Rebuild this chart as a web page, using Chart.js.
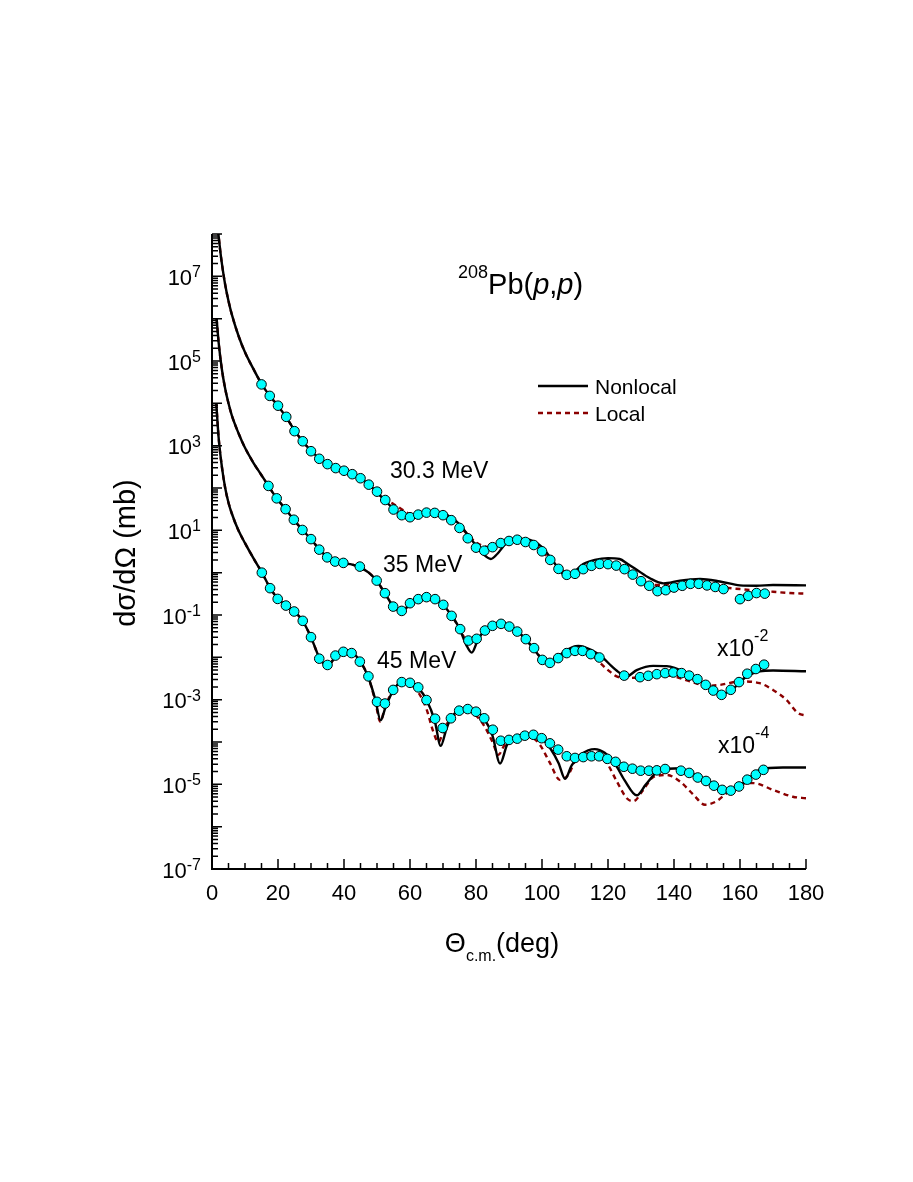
<!DOCTYPE html>
<html>
<head>
<meta charset="utf-8">
<title>208Pb(p,p) elastic scattering</title>
<script src="https://cdn.jsdelivr.net/npm/chart.js@4.4.0/dist/chart.umd.min.js"></script>
<style>
  html, body { margin: 0; padding: 0; background: #fff; }
  canvas { display: block; }
</style>
</head>
<body>
<canvas id="xsChart" width="913" height="1182" style="width:913px;height:1182px"></canvas>
<script>
    // Plotted values (mb), as shown on the figure: 35 MeV already x10^-2, 45 MeV x10^-4

    // 30.3 MeV - data
    const ang303 = [15, 17.5, 20, 22.5, 25, 27.5, 30, 32.5, 35, 37.5, 40, 42.5, 45, 47.5, 50, 52.5, 55, 57.5, 60, 62.5, 65, 67.5, 70, 72.5, 75, 77.5, 80, 82.5, 85, 87.5, 90, 92.5, 95, 97.5, 100, 102.5, 105, 107.5, 110, 112.5, 115, 117.5, 120, 122.5, 125, 127.5, 130, 132.5, 135, 137.5, 140, 142.5, 145, 147.5, 150, 152.5, 155, 160, 162.5, 165, 167.5];
    const sig303 = [2.8e4, 1.5e4, 8.8e3, 4.8e3, 2.2e3, 1.27e3, 740, 490, 366, 295, 256, 212, 170, 120, 82, 52, 31, 22.8, 20.4, 23.5, 26.2, 25.8, 22.8, 17.4, 11.4, 6.5, 3.9, 3.3, 4.0, 5.0, 5.6, 6.0, 5.3, 4.5, 3.2, 2.0, 1.23, 0.89, 0.94, 1.21, 1.45, 1.61, 1.59, 1.47, 1.21, 0.90, 0.63, 0.49, 0.366, 0.386, 0.445, 0.49, 0.545, 0.545, 0.50, 0.46, 0.41, 0.237, 0.283, 0.33, 0.32];
    // 30.3 MeV - nonlocal
    const angNl303 = [1.8, 2.5, 3, 4, 5, 6, 8, 10, 12.5, 15, 17.5, 20, 22.5, 25, 27.5, 30, 32.5, 35, 37.5, 40, 42.5, 45, 47.5, 50, 52.5, 55, 57.5, 60, 62.5, 65, 67.5, 70, 72.5, 75, 77.5, 80, 82.5, 84.5, 86.5, 89, 92, 95, 97.5, 100, 102.5, 105, 107, 109, 112.5, 116, 120, 123.5, 126, 128.7, 132.7, 136.8, 141.8, 147.9, 153.9, 160, 165, 170, 180];
    const sigNl303 = [1.26e8, 4e7, 2e7, 6.3e6, 2.6e6, 1.26e6, 4e5, 1.6e5, 6.6e4, 2.9e4, 1.5e4, 8.7e3, 4.7e3, 2.3e3, 1.26e3, 760, 500, 370, 300, 257, 214, 170, 120, 79, 50, 32, 23, 21, 23.4, 27, 27.5, 25, 20, 13.8, 7.9, 4.4, 2.6, 2.1, 2.8, 4.8, 6.3, 6.3, 5.5, 4.0, 2.3, 1.26, 0.85, 0.93, 1.6, 2.0, 2.2, 2.1, 1.6, 1.17, 0.74, 0.56, 0.65, 0.71, 0.62, 0.50, 0.49, 0.51, 0.50];
    // 30.3 MeV - local
    const angLo303 = [1.8, 2.5, 3, 4, 5, 6, 8, 10, 12.5, 15, 17.5, 20, 22.5, 25, 27.5, 30, 32.5, 35, 37.5, 40, 42.5, 45, 47.5, 50, 52.5, 55, 57.5, 60, 62.5, 65, 67.5, 70, 72.5, 75, 77.5, 80, 82.5, 85, 87.5, 90, 92.5, 95, 97.5, 100, 102.5, 105, 107.5, 110, 112.5, 115, 117.5, 120, 122.5, 125, 127.5, 130, 132.5, 135, 140, 145, 150, 155, 160, 165, 170, 175, 180];
    const sigLo303 = [1.26e8, 4e7, 2e7, 6.3e6, 2.6e6, 1.26e6, 4e5, 1.6e5, 6.6e4, 2.9e4, 1.5e4, 8.7e3, 4.7e3, 2.3e3, 1.26e3, 760, 500, 370, 300, 257, 214, 170, 120, 80, 52, 42, 31.6, 25, 25, 26.3, 26.3, 23.4, 18.6, 12.6, 7.9, 5.2, 4.2, 4.0, 4.8, 5.6, 6.0, 5.5, 4.6, 3.3, 2.0, 1.32, 1.05, 1.07, 1.26, 1.48, 1.62, 1.62, 1.48, 1.2, 0.89, 0.66, 0.54, 0.51, 0.54, 0.56, 0.54, 0.45, 0.41, 0.38, 0.355, 0.33, 0.32];

    // 35 MeV (x10^-2) - data
    const ang35 = [17.1, 19.6, 22.3, 24.8, 27.4, 30, 32.5, 34.9, 37.3, 39.8, 44.8, 49.9, 52.4, 54.9, 57.5, 60, 62.5, 65, 67.6, 70.1, 72.6, 75.2, 77.7, 80.2, 82.7, 85, 87.6, 90.1, 92.5, 95.1, 97.6, 100.1, 102.4, 104.9, 107.5, 110, 112.3, 114.8, 117.4, 124.9, 129.7, 132.2, 134.8, 137.3, 139.8, 142.3, 144.6, 147.1, 149.6, 151.9, 154.4, 157.2, 159.7, 162.2, 164.8, 167.3];
    const sig35 = [112, 57, 31.6, 17.8, 10.2, 6.2, 3.5, 2.3, 1.83, 1.70, 1.39, 0.65, 0.328, 0.158, 0.125, 0.19, 0.237, 0.264, 0.237, 0.174, 0.0955, 0.0463, 0.0249, 0.0274, 0.043, 0.0555, 0.0618, 0.0533, 0.0406, 0.0269, 0.0165, 0.0087, 0.0074, 0.0096, 0.0126, 0.0142, 0.0142, 0.0119, 0.0099, 0.0037, 0.0034, 0.00366, 0.0040, 0.00424, 0.00438, 0.00424, 0.0037, 0.00305, 0.00224, 0.00164, 0.0013, 0.00171, 0.0026, 0.0041, 0.0053, 0.0067];
    // 35 MeV - nonlocal
    const angNl35 = [1.4, 2, 3, 4, 5, 6, 8, 10, 12.5, 15, 17.1, 19.6, 22.3, 24.8, 27.4, 30, 32.5, 35, 37.5, 40, 42.5, 45, 47.5, 50, 52.5, 55, 57.5, 60, 62.5, 65, 67.5, 70, 72.5, 75, 77, 78.7, 80.5, 82.5, 85, 87.5, 90, 92.5, 95, 97.5, 100, 102, 104, 107, 111, 115, 118.6, 121, 123.6, 125.7, 128.7, 133.7, 137.8, 143.8, 148.9, 153, 154.8, 158, 162, 166, 170, 180];
    const sigNl35 = [1e6, 2.8e5, 6.3e4, 2.2e4, 1e4, 5.2e3, 2e3, 890, 400, 200, 112, 57, 31.6, 17.8, 10.2, 6.2, 3.55, 2.34, 1.86, 1.66, 1.55, 1.32, 1.0, 0.63, 0.316, 0.158, 0.126, 0.178, 0.234, 0.263, 0.24, 0.174, 0.1, 0.048, 0.02, 0.0129, 0.025, 0.0427, 0.0575, 0.0646, 0.0562, 0.0417, 0.0269, 0.0158, 0.0089, 0.0071, 0.0089, 0.0141, 0.0186, 0.0148, 0.0095, 0.0063, 0.00427, 0.00355, 0.005, 0.0063, 0.0062, 0.00427, 0.00245, 0.00155, 0.00138, 0.00186, 0.00355, 0.00468, 0.0049, 0.00468];
    // 35 MeV - local
    const angLo35 = [1.4, 2, 3, 4, 5, 6, 8, 10, 12.5, 15, 17.1, 19.6, 22.3, 24.8, 27.4, 30, 32.5, 35, 37.5, 40, 42.5, 45, 47.5, 50, 52.5, 55, 57.5, 60, 62.5, 65, 67.5, 70, 72.5, 75, 77, 78.7, 80.5, 82.5, 85, 87.5, 90, 92.5, 95, 97.5, 100, 102, 104, 107, 110, 112.5, 115, 117.6, 120, 122.6, 125.7, 130, 135, 140, 144.8, 150, 154, 160, 166, 170, 174, 177.6, 180];
    const sigLo35 = [1e6, 2.8e5, 6.3e4, 2.2e4, 1e4, 5.2e3, 2e3, 890, 400, 200, 112, 57, 31.6, 17.8, 10.2, 6.2, 3.55, 2.34, 1.86, 1.66, 1.55, 1.32, 1.0, 0.63, 0.316, 0.158, 0.126, 0.178, 0.234, 0.263, 0.24, 0.174, 0.1, 0.048, 0.025, 0.0224, 0.028, 0.0427, 0.0575, 0.063, 0.055, 0.041, 0.027, 0.016, 0.0093, 0.0078, 0.0093, 0.0129, 0.0141, 0.0138, 0.0117, 0.0074, 0.0050, 0.00355, 0.00324, 0.0034, 0.0038, 0.00355, 0.0027, 0.00214, 0.00224, 0.0027, 0.00245, 0.0017, 0.001, 0.00048, 0.00042];

    // 45 MeV (x10^-4) - data
    const ang45 = [15.1, 17.6, 19.9, 22.4, 24.9, 27.5, 30, 32.5, 35, 37.4, 39.8, 42.3, 44.8, 47.4, 50, 52.4, 54.9, 57.5, 60, 62.5, 65, 67.6, 69.9, 72.4, 74.9, 77.5, 80, 82.5, 85.1, 87.5, 90, 92.5, 94.8, 97.4, 99.9, 102.4, 104.9, 107.5, 110, 112.5, 115, 117.3, 119.8, 122.3, 124.8, 127.4, 129.9, 132.4, 134.8, 137.3, 142.1, 144.6, 147.2, 149.7, 152.1, 154.6, 157.2, 159.7, 162.2, 164.8, 167.1];
    const sig45 = [1.0, 0.43, 0.24, 0.167, 0.121, 0.0728, 0.030, 0.0093, 0.0066, 0.011, 0.0135, 0.0126, 0.0079, 0.00355, 0.00089, 0.00081, 0.0017, 0.0026, 0.0025, 0.00195, 0.00098, 0.000355, 0.000214, 0.000363, 0.00055, 0.0006, 0.00052, 0.000363, 0.000195, 0.000107, 0.000112, 0.00012, 0.000141, 0.000148, 0.000123, 9.3e-5, 6.6e-5, 4.6e-5, 4.2e-5, 4.4e-5, 4.6e-5, 4.6e-5, 4.0e-5, 3.4e-5, 2.6e-5, 2.34e-5, 2.1e-5, 2.1e-5, 2.14e-5, 2.3e-5, 2.1e-5, 1.86e-5, 1.45e-5, 1.2e-5, 9.3e-6, 7.4e-6, 7.1e-6, 8.9e-6, 1.29e-5, 1.7e-5, 2.2e-5];
    // 45 MeV - nonlocal
    const angNl45 = [1.3, 2, 3, 4, 5, 6, 8, 10, 12.5, 15, 17.5, 20, 22.5, 25, 27.5, 30, 32.5, 35, 37.5, 40, 42.5, 45, 47.5, 49.5, 51.1, 52.5, 55, 57.5, 60, 62.5, 65, 67.5, 69.3, 71, 72.5, 75, 77.5, 80, 82.5, 85, 87.3, 89.5, 92.5, 95, 97.5, 100, 102.5, 105, 107, 109, 112, 116, 119, 122, 125, 128.7, 131.5, 135.8, 141.8, 145, 150, 154.6, 157.5, 160, 163, 166, 173, 180];
    const sigNl45 = [1e4, 1.58e3, 316, 100, 45, 25, 10, 5.0, 2.24, 1.05, 0.45, 0.24, 0.166, 0.12, 0.072, 0.030, 0.01, 0.0063, 0.0105, 0.0135, 0.0126, 0.0079, 0.00316, 0.001, 0.000324, 0.00063, 0.0017, 0.0026, 0.0026, 0.0019, 0.001, 0.000316, 8.1e-5, 0.0002, 0.00038, 0.000575, 0.00063, 0.000537, 0.000355, 0.000141, 3.1e-5, 8.9e-5, 0.000132, 0.000151, 0.000151, 0.00012, 7.1e-5, 3.2e-5, 1.35e-5, 2.8e-5, 5.2e-5, 6.8e-5, 5.6e-5, 3.2e-5, 1.26e-5, 5.5e-6, 1e-5, 2.2e-5, 2.4e-5, 1.9e-5, 1.2e-5, 7.4e-6, 7.2e-6, 9.3e-6, 1.45e-5, 2.2e-5, 2.5e-5, 2.5e-5];
    // 45 MeV - local
    const angLo45 = [1.3, 2, 3, 4, 5, 6, 8, 10, 12.5, 15, 17.5, 20, 22.5, 25, 27.5, 30, 32.5, 35, 37.5, 40, 42.5, 45, 47.5, 49.5, 51, 52.5, 55, 57.5, 60, 62.5, 65, 67, 68.6, 70.5, 72.5, 75, 77.5, 80, 82.5, 85, 86.8, 88.5, 91, 94, 97, 99.4, 102.4, 105.5, 108, 110.5, 113.5, 116.5, 119.6, 122.6, 125.7, 127.7, 130.7, 133.7, 137.8, 141.8, 145.8, 149.4, 152.9, 156, 160, 164, 170, 176, 180];
    const sigLo45 = [1e4, 1.58e3, 316, 100, 45, 25, 10, 5.0, 2.24, 1.05, 0.45, 0.24, 0.166, 0.12, 0.072, 0.030, 0.01, 0.0063, 0.0105, 0.0135, 0.0126, 0.0079, 0.00316, 0.0009, 0.0003, 0.0007, 0.0017, 0.0025, 0.0023, 0.0015, 0.0006, 0.00018, 0.0001, 0.00022, 0.00036, 0.00052, 0.00054, 0.00042, 0.00024, 0.0001, 5e-5, 8e-5, 0.000118, 0.000135, 0.000126, 8.5e-5, 3.2e-5, 1.26e-5, 1.7e-5, 4.2e-5, 5.4e-5, 4.6e-5, 3.2e-5, 1.2e-5, 4.7e-6, 4e-6, 7.4e-6, 1.48e-5, 1.66e-5, 1.17e-5, 5.8e-6, 3.3e-6, 4e-6, 6.2e-6, 9.8e-6, 1.07e-5, 7.4e-6, 5.1e-6, 4.7e-6];

    // axis ticks
    const xTickLabels = [0, 20, 40, 60, 80, 100, 120, 140, 160, 180];
    const yTickPowers = [7, 5, 3, 1, -1, -3, -5, -7];

    const FONT = '"Liberation Sans", Arial, Helvetica, sans-serif';
    const pts = (xs, ys) => xs.map((x, i) => ({ x: x, y: ys[i] }));

    function solidLine(xs, ys) {
        return { data: pts(xs, ys), showLine: true, borderColor: '#000', borderWidth: 2.4, pointRadius: 0, cubicInterpolationMode: 'monotone', order: 2 };
    }
    function dashedLine(xs, ys) {
        return { data: pts(xs, ys), showLine: true, borderColor: '#8b0000', borderWidth: 2.4, borderDash: [5, 4], pointRadius: 0, cubicInterpolationMode: 'monotone', order: 3 };
    }
    function dataPoints(xs, ys) {
        return { data: pts(xs, ys), showLine: false, pointRadius: 4.8, pointBackgroundColor: '#00ffff', pointBorderColor: '#000', pointBorderWidth: 1, order: 1 };
    }

    // draws text made of runs (base, superscript, subscript, italic)
    function drawRuns(ctx, runs, x, y, align) {
        let total = 0;
        runs.forEach(r => {
            ctx.font = (r.italic ? 'italic ' : '') + r.size + 'px ' + FONT;
            r.w = ctx.measureText(r.t).width;
            total += r.w;
        });
        let cx = align === 'right' ? x - total : align === 'center' ? x - total / 2 : x;
        runs.forEach(r => {
            ctx.font = (r.italic ? 'italic ' : '') + r.size + 'px ' + FONT;
            ctx.fillText(r.t, cx, y + (r.dy || 0));
            cx += r.w;
        });
    }

    const frame = {
        id: 'frame',
        afterDatasetsDraw(chart) {
            const { ctx, chartArea: ca, scales: { x, y } } = chart;
            ctx.save();
            ctx.strokeStyle = '#000';
            ctx.fillStyle = '#000';
            ctx.lineWidth = 2;
            ctx.beginPath();
            ctx.moveTo(ca.left, ca.top);
            ctx.lineTo(ca.left, ca.bottom);
            ctx.lineTo(ca.right, ca.bottom);
            ctx.stroke();

            // x ticks, inward
            ctx.lineWidth = 1.5;
            ctx.beginPath();
            for (let v = 0; v <= 180; v += 5) {
                const px = x.getPixelForValue(v);
                const len = v % 20 === 0 ? 10 : 6;
                ctx.moveTo(px, ca.bottom);
                ctx.lineTo(px, ca.bottom - len);
            }
            // y ticks, inward, log minor
            for (let p = -7; p <= 8; p++) {
                for (let m = 1; m <= 9; m++) {
                    const v = m * Math.pow(10, p);
                    if (v > 1.0001e8) break;
                    const py = y.getPixelForValue(v);
                    const len = m === 1 ? 10 : 6;
                    ctx.moveTo(ca.left, py);
                    ctx.lineTo(ca.left + len, py);
                }
            }
            ctx.stroke();

            ctx.textAlign = 'left';
            ctx.textBaseline = 'alphabetic';
            // x tick labels
            xTickLabels.forEach(v => {
                drawRuns(ctx, [{ t: String(v), size: 22 }], x.getPixelForValue(v), 900, 'center');
            });
            // y tick labels
            yTickPowers.forEach(p => {
                const py = y.getPixelForValue(Math.pow(10, p));
                drawRuns(ctx, [{ t: '10', size: 22 }, { t: String(p), size: 16, dy: -7.5 }], 201, py + 8.5, 'right');
            });

            // axis titles
            drawRuns(ctx, [{ t: '\u0398', size: 27 }, { t: 'c.m.', size: 16, dy: 9 }, { t: '(deg)', size: 27 }], 502, 952, 'center');
            ctx.save();
            ctx.translate(135, 553);
            ctx.rotate(-Math.PI / 2);
            drawRuns(ctx, [{ t: 'd\u03c3/d\u03a9 (mb)', size: 29 }], 0, 0, 'center');
            ctx.restore();

            // reaction label
            drawRuns(ctx, [{ t: '208', size: 18, dy: -16 }, { t: 'Pb(', size: 29 }, { t: 'p', size: 29, italic: true }, { t: ',', size: 29 }, { t: 'p', size: 29, italic: true }, { t: ')', size: 29 }], 458, 294, 'left');

            // legend
            ctx.lineWidth = 2.4;
            ctx.strokeStyle = '#000';
            ctx.beginPath();
            ctx.moveTo(538, 386);
            ctx.lineTo(588, 386);
            ctx.stroke();
            ctx.strokeStyle = '#8b0000';
            ctx.setLineDash([5, 4]);
            ctx.beginPath();
            ctx.moveTo(538, 413);
            ctx.lineTo(588, 413);
            ctx.stroke();
            ctx.setLineDash([]);
            drawRuns(ctx, [{ t: 'Nonlocal', size: 21 }], 595, 394, 'left');
            drawRuns(ctx, [{ t: 'Local', size: 21 }], 595, 421, 'left');

            // energy labels and scale factors
            drawRuns(ctx, [{ t: '30.3 MeV', size: 23 }], 390, 478, 'left');
            drawRuns(ctx, [{ t: '35 MeV', size: 23 }], 383, 572, 'left');
            drawRuns(ctx, [{ t: '45 MeV', size: 23 }], 377, 668, 'left');
            drawRuns(ctx, [{ t: 'x10', size: 23 }, { t: '-2', size: 16, dy: -15 }], 717, 656, 'left');
            drawRuns(ctx, [{ t: 'x10', size: 23 }, { t: '-4', size: 16, dy: -15 }], 718, 753, 'left');
            ctx.restore();
        }
    };

    const chartCtx = document.getElementById('xsChart').getContext('2d');
    new Chart(chartCtx, {
        type: 'scatter',
        data: {
            datasets: [
                dashedLine(angLo303, sigLo303),
                dashedLine(angLo35, sigLo35),
                dashedLine(angLo45, sigLo45),
                solidLine(angNl303, sigNl303),
                solidLine(angNl35, sigNl35),
                solidLine(angNl45, sigNl45),
                dataPoints(ang303, sig303),
                dataPoints(ang35, sig35),
                dataPoints(ang45, sig45)
            ]
        },
        options: {
            responsive: false,
            devicePixelRatio: 1,
            animation: false,
            events: [],
            layout: { padding: { left: 212, right: 107, top: 234, bottom: 313 } },
            scales: {
                x: { type: 'linear', min: 0, max: 180, display: false },
                y: { type: 'logarithmic', min: 1e-7, max: 1e8, display: false }
            },
            plugins: {
                legend: { display: false },
                tooltip: { enabled: false }
            }
        },
        plugins: [frame]
    });
</script>
</body>
</html>
